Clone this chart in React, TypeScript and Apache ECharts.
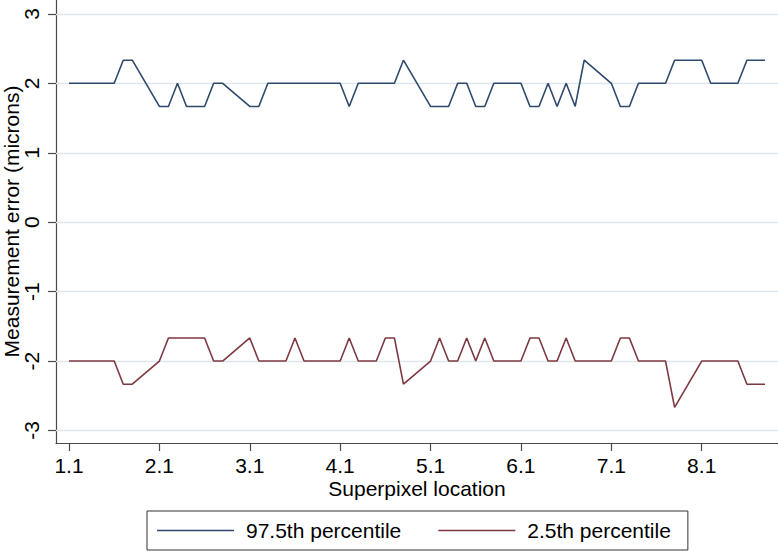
import React, { useEffect, useRef } from "react";
import * as echarts from "echarts";

// Superpixel locations (row.column)
const locations: number[] = [
  1.1, 1.2, 1.3, 1.4, 1.5, 1.6, 1.7, 1.8,
  2.1, 2.2, 2.3, 2.4, 2.5, 2.6, 2.7, 2.8,
  3.1, 3.2, 3.3, 3.4, 3.5, 3.6, 3.7, 3.8,
  4.1, 4.2, 4.3, 4.4, 4.5, 4.6, 4.7, 4.8,
  5.1, 5.2, 5.3, 5.4, 5.5, 5.6, 5.7, 5.8,
  6.1, 6.2, 6.3, 6.4, 6.5, 6.6, 6.7, 6.8,
  7.1, 7.2, 7.3, 7.4, 7.5, 7.6, 7.7, 7.8,
  8.1, 8.2, 8.3, 8.4, 8.5, 8.6, 8.7, 8.8,
];

// 97.5th percentile of measurement error (microns)
const upper: number[] = [
  2, 2, 2, 2, 2, 2, 2.333, 2.333,
  1.667, 1.667, 2, 1.667, 1.667, 1.667, 2, 2,
  1.667, 1.667, 2, 2, 2, 2, 2, 2,
  2, 1.667, 2, 2, 2, 2, 2, 2.333,
  1.667, 1.667, 1.667, 2, 2, 1.667, 1.667, 2,
  2, 1.667, 1.667, 2, 1.667, 2, 1.667, 2.333,
  2, 1.667, 1.667, 2, 2, 2, 2, 2.333,
  2.333, 2, 2, 2, 2, 2.333, 2.333, 2.333,
];

// 2.5th percentile of measurement error (microns)
const lower: number[] = [
  -2, -2, -2, -2, -2, -2, -2.333, -2.333,
  -2, -1.667, -1.667, -1.667, -1.667, -1.667, -2, -2,
  -1.667, -2, -2, -2, -2, -1.667, -2, -2,
  -2, -1.667, -2, -2, -2, -1.667, -1.667, -2.333,
  -2, -1.667, -2, -2, -1.667, -2, -1.667, -2,
  -2, -1.667, -1.667, -2, -2, -1.667, -2, -2,
  -2, -1.667, -1.667, -2, -2, -2, -2, -2.667,
  -2, -2, -2, -2, -2, -2.333, -2.333, -2.333,
];

const xTicks: number[] = [1.1, 2.1, 3.1, 4.1, 5.1, 6.1, 7.1, 8.1];
const yTicks: number[] = [-3, -2, -1, 0, 1, 2, 3];
const seriesNames: string[] = ["97.5th percentile", "2.5th percentile"];

const FONT = "'Liberation Sans', Arial, Helvetica, sans-serif";
const FS = 21;
const AXIS = "#4a4a4a";
const GRID = "#dde6eb";
const BLUE = "#2d4a6c";
const RED = "#7e3840";

export default function App() {
  const ref = useRef<HTMLDivElement>(null);

  useEffect(() => {
    document.body.style.margin = "0";
    if (!ref.current) return;
    const chart = echarts.init(ref.current, null, { renderer: "svg" });
    const mk = (ys: number[]) => locations.map((x, i) => [x, ys[i]]);
    chart.setOption({
      animation: false,
      backgroundColor: "#ffffff",
      textStyle: { fontFamily: FONT },
      grid: {
        left: 56,
        right: 0,
        top: 0,
        bottom: 108,
        containLabel: false,
        outerBoundsMode: "none",
      },
      xAxis: {
        type: "value",
        min: 0.956,
        max: 8.944,
        name: "Superpixel location",
        nameLocation: "middle",
        nameGap: 35,
        nameMoveOverlap: false,
        nameTextStyle: { fontSize: FS, color: "#000", fontFamily: FONT },
        axisLine: { show: true, onZero: false, lineStyle: { color: AXIS, width: 1.2 } },
        axisTick: { show: true, length: 8, lineStyle: { color: AXIS, width: 1.2 }, customValues: xTicks },
        axisLabel: {
          customValues: xTicks,
          fontSize: FS,
          color: "#000",
          margin: 12,
          fontFamily: FONT,
          formatter: (v: number) => v.toFixed(1),
        },
        splitLine: { show: false },
      },
      yAxis: {
        type: "value",
        min: -3.18,
        max: 3.2,
        name: "Measurement error (microns)",
        nameLocation: "middle",
        nameGap: 34,
        nameMoveOverlap: false,
        nameTextStyle: { fontSize: FS, color: "#000", fontFamily: FONT },
        axisLine: { show: true, onZero: false, lineStyle: { color: AXIS, width: 1.2 } },
        axisTick: { show: true, length: 8, lineStyle: { color: AXIS, width: 1.2 }, customValues: yTicks },
        axisLabel: {
          customValues: yTicks,
          rotate: 90,
          fontSize: FS,
          color: "#000",
          margin: 14,
          fontFamily: FONT,
        },
        splitLine: { show: false },
      },
      legend: {
        left: 147,
        top: 511,
        orient: "horizontal",
        padding: [9, 17, 9, 10],
        itemGap: 37,
        itemWidth: 77,
        itemHeight: 1.6,
        icon: "rect",
        borderColor: "#333",
        borderWidth: 1,
        borderRadius: 0,
        textStyle: { fontSize: FS, color: "#000", fontFamily: FONT, padding: [0, 0, 0, 7] },
        data: seriesNames,
      },
      series: [
        {
          name: seriesNames[0],
          type: "line",
          data: mk(upper),
          symbol: "none",
          color: BLUE,
          lineStyle: { color: BLUE, width: 1.6 },
          z: 3,
          markLine: {
            silent: true,
            symbol: "none",
            label: { show: false },
            animation: false,
            lineStyle: { color: GRID, width: 1.3, type: "solid" },
            data: yTicks.map((v) => ({ yAxis: v })),
            z: 1,
          },
        },
        {
          name: seriesNames[1],
          type: "line",
          data: mk(lower),
          symbol: "none",
          color: RED,
          lineStyle: { color: RED, width: 1.6 },
          z: 3,
        },
      ],
    });
    return () => chart.dispose();
  }, []);

  return <div ref={ref} style={{ width: 778, height: 551 }} />;
}
